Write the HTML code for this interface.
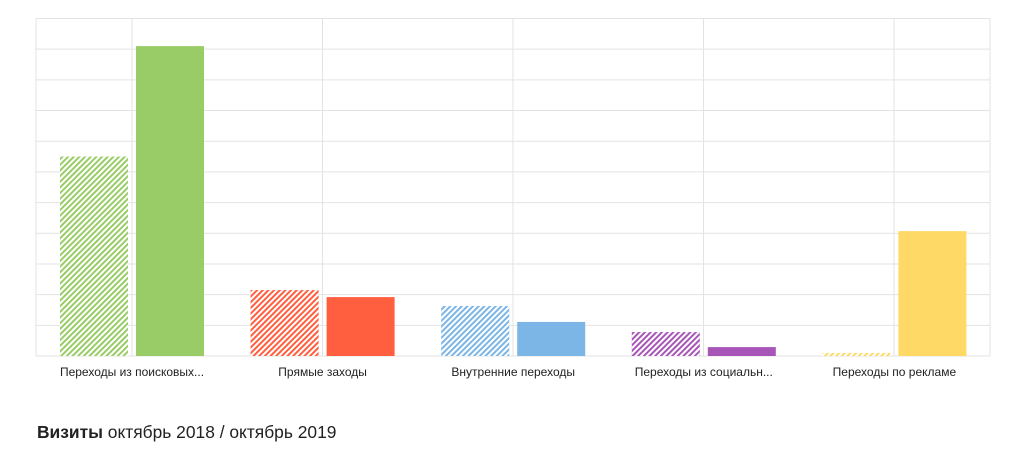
<!DOCTYPE html>
<html><head><meta charset="utf-8"><style>
body{margin:0;width:1028px;height:458px;background:#fff;font-family:"Liberation Sans",sans-serif;overflow:hidden}
svg{position:absolute;left:0;top:0}
.t{position:absolute;left:37px;top:422px;font-size:17.4px;color:#222}
</style></head><body>
<svg id="c" width="1028" height="458">
<defs>
<pattern id="h" width="4" height="4" patternUnits="userSpaceOnUse" patternTransform="rotate(45)"><rect width="2" height="4" fill="#fff"/></pattern>
</defs>
</svg>
<div class="t"><b>Визиты</b> октябрь 2018 / октябрь 2019</div>
<script>
const categories=["Переходы из поисковых...","Прямые заходы","Внутренние переходы","Переходы из социальн...","Переходы по рекламе"];
const values2018=[65,21.5,16.3,7.8,1];
const values2019=[101,19.2,11.1,2.9,40.7];
const colors=["#99cc66","#ff5e3f","#7cb6e6","#a855b8","#ffd966"];
const NS="http://www.w3.org/2000/svg",svg=document.getElementById('c');
const L=36,R=990,T=18.5,B=356,MAX=110;
const y=v=>B-v/MAX*(B-T);
const cx=i=>132+i*190.6;
function mk(t,a,p){const e=document.createElementNS(NS,t);for(const k in a)e.setAttribute(k,a[k]);(p||svg).appendChild(e);return e;}
const g=mk('g',{});


for(let k=0;k<=11;k++){const yy=y(k*10);mk('line',{x1:L,x2:R,y1:yy,y2:yy,stroke:'#e3e3e3','stroke-width':1},g);}
[L,132,322.5,513,703.5,894,R].forEach(x=>mk('line',{x1:x,x2:x,y1:T,y2:B,stroke:'#e3e3e3','stroke-width':1},g));
categories.forEach((c,i)=>{
 const c0=cx(i);
 const a=mk('rect',{x:c0-72,y:y(values2018[i]),width:68,height:B-y(values2018[i]),fill:colors[i]});
 
 
 mk('rect',{x:c0-72,y:y(values2018[i]),width:68,height:B-y(values2018[i]),fill:'url(#h)'});
 const b=mk('rect',{x:c0+4,y:y(values2019[i]),width:68,height:B-y(values2019[i]),fill:colors[i]});
 
 
 const t=mk('text',{x:c0,y:376,'text-anchor':'middle','font-size':12,fill:'#222','font-family':'Liberation Sans, sans-serif'});
 t.textContent=c;
 
 
});
</script>
</body></html>
